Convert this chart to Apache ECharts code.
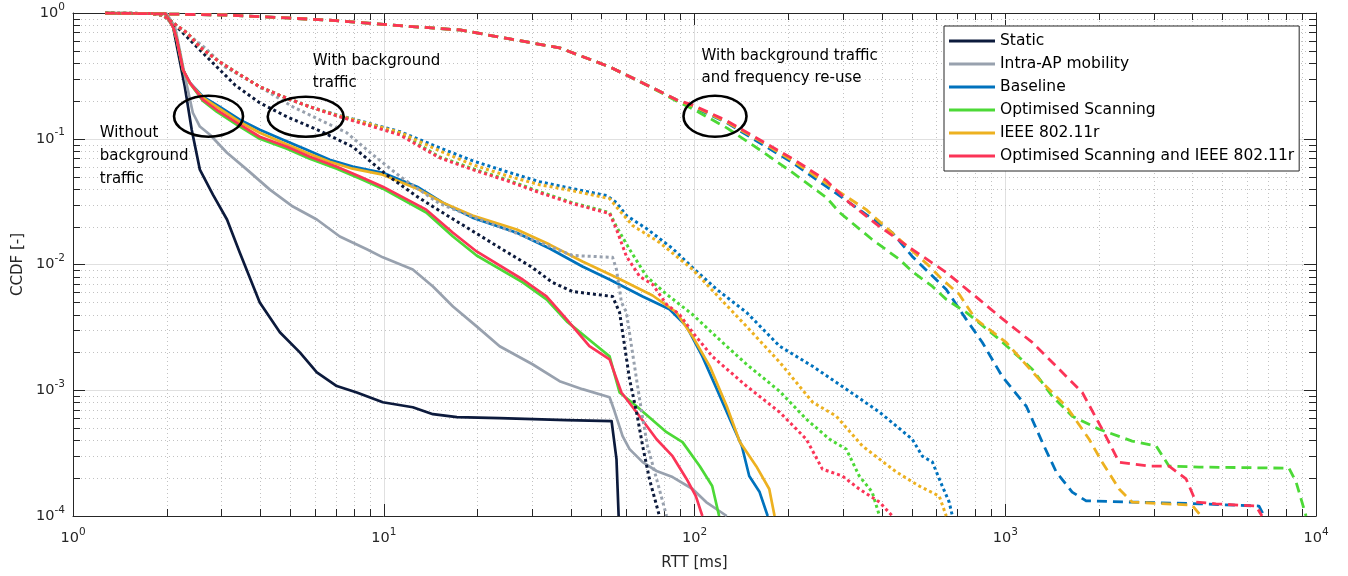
<!DOCTYPE html>
<html><head><meta charset="utf-8">
<script src="https://cdn.jsdelivr.net/npm/echarts@6/dist/echarts.min.js"></script>
<style>html,body{margin:0;padding:0;background:#fff}#c{width:1348px;height:576px}</style>
</head><body><div id="c"></div>
<script>
// ---- axis ticks ----
const xMajorTicks = [1, 10, 100, 1000, 10000];
const yMajorTicks = [0.0001, 0.001, 0.01, 0.1, 1];
const xMinorTicks = [2,3,4,5,6,7,8,9,20,30,40,50,60,70,80,90,200,300,400,500,600,700,800,900,2000,3000,4000,5000,6000,7000,8000,9000];
const yMinorTicks = [0.0002,0.0003,0.0004,0.0005,0.0006,0.0007,0.0008,0.0009,0.002,0.003,0.004,0.005,0.006,0.007,0.008,0.009,0.02,0.03,0.04,0.05,0.06,0.07,0.08,0.09,0.2,0.3,0.4,0.5,0.6,0.7,0.8,0.9];

const legendNames = ['Static','Intra-AP mobility','Baseline','Optimised Scanning','IEEE 802.11r','Optimised Scanning and IEEE 802.11r'];

// ---- Without background traffic (solid) ----
const staticSolid = [[1.27,1],[1.98,0.99],[2.10,0.774],[2.29,0.259],[2.41,0.118],[2.56,0.0568],[2.82,0.036],[3.13,0.0228],[3.44,0.01245],[3.99,0.00499],[4.63,0.00289],[5.37,0.002],[6.09,0.00139],[7.06,0.00108],[8.19,0.00096],[9.93,0.000803],[12.4,0.000733],[14.4,0.000645],[17.2,0.000611],[23.6,0.0006],[38.8,0.000578],[54.1,0.000568],[56.1,0.000283],[57.0,0.0001]];
const intraSolid = [[1.27,1],[2.0,0.99],[2.13,0.774],[2.33,0.259],[2.43,0.161],[2.56,0.125],[2.76,0.1076],[3.13,0.0774],[3.63,0.0568],[4.30,0.0394],[5.10,0.0289],[6.09,0.0228],[7.22,0.0167],[8.82,0.0132],[9.93,0.0114],[12.4,0.00913],[14.4,0.00669],[16.7,0.00464],[19.9,0.00322],[23.6,0.00224],[30.1,0.00161],[36.8,0.00118],[43.6,0.00102],[53.3,0.00088],[55.3,0.00068],[58.7,0.000432],[61.8,0.00034],[68.1,0.000268],[75.5,0.000228],[85.0,0.000204],[98.6,0.000164],[109,0.000129],[127,0.0001]];
const baselineSolid = [[1.27,1],[1.98,0.99],[2.10,0.774],[2.16,0.61],[2.26,0.353],[2.38,0.278],[2.62,0.216],[2.97,0.1795],[3.44,0.1416],[3.99,0.118],[4.74,0.0982],[5.65,0.0818],[6.70,0.0681],[7.94,0.060],[9.93,0.0537],[12.8,0.0416],[15.5,0.031],[19.3,0.0236],[26.8,0.0179],[34.2,0.0134],[43.6,0.00965],[53.3,0.0076],[68.1,0.00557],[83.1,0.0044],[94.3,0.00322],[106,0.00186],[118,0.00102],[130,0.000589],[142,0.00036],[150,0.000208],[162,0.000155],[172,0.0001]];
const optScanSolid = [[1.27,1],[1.98,0.99],[2.10,0.774],[2.16,0.61],[2.26,0.353],[2.38,0.275],[2.62,0.20],[2.90,0.164],[3.37,0.129],[3.99,0.1],[4.88,0.0833],[5.78,0.0694],[7.06,0.0578],[8.37,0.0482],[9.93,0.0401],[13.7,0.0259],[16.7,0.0167],[19.9,0.0118],[28.0,0.0072],[33.4,0.00528],[38.8,0.00353],[47.0,0.0024],[53.3,0.00186],[57.4,0.00096],[65.1,0.000746],[81.3,0.000464],[91.5,0.000387],[104,0.000249],[114,0.000173],[120,0.0001]];
const ieeeSolid = [[1.27,1],[1.98,0.99],[2.10,0.774],[2.16,0.61],[2.26,0.353],[2.38,0.275],[2.62,0.212],[2.97,0.173],[3.44,0.136],[3.99,0.1116],[4.74,0.0929],[5.65,0.0774],[6.70,0.0657],[7.94,0.0578],[9.93,0.0518],[12.8,0.0401],[15.5,0.031],[19.3,0.0245],[26.8,0.019],[34.2,0.0144],[43.6,0.01056],[56.1,0.00789],[73.3,0.00567],[87.5,0.00416],[98.6,0.00268],[112,0.00155],[127,0.000746],[140,0.000387],[158,0.000249],[174,0.000164],[181,0.0001]];
const optIeeeSolid = [[1.27,1],[1.98,0.99],[2.10,0.774],[2.16,0.61],[2.26,0.353],[2.38,0.278],[2.62,0.204],[2.90,0.170],[3.37,0.134],[3.99,0.1037],[4.88,0.0864],[5.78,0.072],[7.06,0.060],[8.37,0.050],[9.93,0.0416],[13.7,0.0273],[16.7,0.0179],[19.9,0.0127],[28.0,0.0076],[33.4,0.00557],[38.8,0.00366],[45.9,0.00224],[53.3,0.00176],[58.2,0.00096],[65.1,0.000669],[75.5,0.000408],[85.0,0.000299],[94.3,0.000197],[101,0.000144],[106,0.0001]];

// ---- With background traffic (dotted) ----
const staticBG = [[1.27,1],[1.77,0.99],[1.95,0.96],[2.10,0.833],[2.43,0.578],[2.62,0.481],[2.86,0.387],[3.32,0.268],[3.99,0.193],[4.88,0.1496],[6.22,0.1157],[7.94,0.0864],[10.2,0.0518],[12.8,0.0347],[15.1,0.0268],[18.5,0.0197],[23.6,0.0136],[30.1,0.00946],[34.9,0.0072],[40.5,0.0061],[54.5,0.00557],[57.4,0.00416],[59.6,0.00224],[61.8,0.00122],[65.1,0.000669],[68.1,0.00036],[71.6,0.000197],[77.1,0.0001]];
const intraBG = [[1.27,1],[1.77,0.99],[1.95,0.96],[2.10,0.833],[2.38,0.657],[2.66,0.528],[3.08,0.373],[3.99,0.259],[5.10,0.1795],[6.22,0.1416],[7.60,0.1116],[9.22,0.0746],[11.3,0.050],[15.1,0.0305],[19.3,0.024],[24.9,0.019],[31.7,0.015],[40.5,0.0118],[54.5,0.0114],[56.1,0.00913],[58.2,0.005],[60.4,0.00416],[62.7,0.00224],[65.1,0.00122],[67.6,0.000669],[70.6,0.00036],[75.5,0.000197],[81.3,0.0001]];
const baselineBG = [[1.27,1],[1.77,0.99],[1.95,0.96],[2.10,0.833],[2.33,0.694],[2.56,0.537],[2.90,0.424],[3.37,0.334],[3.99,0.259],[4.74,0.216],[5.78,0.1795],[7.06,0.155],[8.82,0.134],[11.3,0.1137],[15.1,0.0849],[19.3,0.0669],[24.9,0.0547],[31.7,0.0456],[40.5,0.0401],[52.2,0.0353],[56.1,0.031],[60.4,0.0245],[70.1,0.0193],[85.0,0.0134],[98.6,0.00946],[118,0.00633],[147,0.00416],[188,0.00224],[240,0.00155],[308,0.00102],[394,0.000669],[502,0.000408],[541,0.000299],[583,0.000268],[627,0.000173],[660,0.000129],[676,0.0001]];
const optScanBG = [[1.27,1],[1.77,0.99],[1.95,0.96],[2.10,0.833],[2.33,0.694],[2.56,0.537],[2.90,0.424],[3.37,0.334],[3.99,0.259],[4.74,0.216],[5.78,0.1795],[7.06,0.153],[8.82,0.1315],[11.3,0.1096],[15.1,0.072],[19.3,0.0578],[24.9,0.0473],[31.7,0.038],[40.5,0.031],[53.3,0.0259],[56.1,0.02],[61.8,0.0132],[70.1,0.00803],[81.3,0.0058],[98.6,0.004],[118,0.00264],[147,0.00161],[188,0.00098],[229,0.000589],[272,0.000408],[308,0.00034],[339,0.000208],[373,0.000155],[394,0.0001]];
const ieeeBG = [[1.27,1],[1.77,0.99],[1.95,0.96],[2.10,0.833],[2.33,0.694],[2.56,0.537],[2.90,0.424],[3.37,0.334],[3.99,0.259],[4.74,0.216],[5.78,0.1795],[7.06,0.154],[8.82,0.133],[11.3,0.112],[15.1,0.0803],[19.3,0.0622],[24.9,0.0508],[31.7,0.0431],[40.5,0.0386],[53.3,0.0334],[57.4,0.0268],[63.2,0.0204],[77.1,0.015],[98.6,0.00913],[120,0.00547],[147,0.00322],[188,0.00167],[240,0.000803],[286,0.000622],[347,0.00036],[446,0.000224],[529,0.000173],[613,0.000144],[646,0.0001]];
const optIeeeBG = [[1.27,1],[1.77,0.99],[1.95,0.96],[2.10,0.833],[2.33,0.694],[2.56,0.537],[2.90,0.424],[3.37,0.334],[3.99,0.259],[4.74,0.216],[5.78,0.1795],[7.06,0.152],[8.82,0.129],[11.3,0.107],[15.1,0.0707],[19.3,0.0568],[24.9,0.0464],[31.7,0.0373],[40.5,0.0305],[53.3,0.0254],[56.1,0.019],[60.4,0.0116],[66.6,0.00803],[73.3,0.00694],[81.3,0.00482],[89.5,0.004],[98.6,0.00289],[114,0.00186],[147,0.00108],[188,0.000669],[229,0.000408],[258,0.000236],[299,0.000208],[339,0.000164],[394,0.000129],[433,0.0001]];

// ---- With background traffic and frequency re-use (dashed) ----
const baselineFR = [[1.27,1],[3.13,0.964],[6.56,0.88],[10.7,0.80],[17.6,0.733],[36.8,0.528],[53.3,0.373],[68.1,0.278],[87.5,0.204],[98.6,0.18],[127,0.134],[162,0.0929],[207,0.0645],[266,0.0416],[339,0.0273],[433,0.0179],[502,0.0116],[646,0.00633],[749,0.00366],[844,0.0024],[977,0.00129],[1169,0.000746],[1315,0.000387],[1459,0.000224],[1642,0.000155],[1821,0.000132],[2560,0.000129],[4203,0.000125],[6555,0.00012],[6810,0.0001]];
const optScanFR = [[1.27,1],[3.13,0.964],[6.56,0.88],[10.7,0.80],[17.6,0.733],[36.8,0.528],[53.3,0.373],[68.1,0.278],[87.5,0.2],[98.6,0.173],[127,0.122],[162,0.0818],[207,0.0537],[266,0.034],[293,0.0259],[373,0.0158],[456,0.011],[502,0.0088],[583,0.00669],[646,0.00528],[749,0.00416],[957,0.00254],[1222,0.00147],[1416,0.000896],[1642,0.000622],[2004,0.00049],[2560,0.000394],[3060,0.00036],[3367,0.000249],[4203,0.000245],[8187,0.00024],[8630,0.000186],[9290,0.0001]];
const ieeeFR = [[1.27,1],[3.13,0.964],[6.56,0.88],[10.7,0.80],[17.6,0.733],[36.8,0.528],[53.3,0.373],[68.1,0.278],[87.5,0.204],[98.6,0.1826],[127,0.136],[162,0.0964],[207,0.0669],[266,0.044],[357,0.0273],[446,0.0167],[570,0.0097],[627,0.0076],[711,0.0058],[801,0.0037],[1007,0.0024],[1286,0.00122],[1571,0.000746],[1862,0.000408],[2051,0.000268],[2325,0.000164],[2560,0.000129],[3993,0.000122],[4268,0.0001]];
const optIeeeFR = [[1.27,1],[3.13,0.964],[6.56,0.88],[10.7,0.80],[17.6,0.733],[36.8,0.528],[53.3,0.373],[68.1,0.278],[87.5,0.204],[98.6,0.186],[127,0.139],[162,0.0982],[207,0.0694],[266,0.0464],[315,0.031],[394,0.02],[502,0.0132],[646,0.00865],[824,0.00528],[957,0.00387],[1222,0.0024],[1491,0.00147],[1770,0.00096],[2051,0.00049],[2325,0.000268],[2904,0.000249],[3367,0.000249],[3819,0.000197],[4112,0.000129],[4767,0.000125],[6412,0.00012],[6700,0.0001]];

// ---- annotations (data-space anchors) ----
const ellipseCenters = [[2.73,0.151],[5.61,0.1496],[116.4,0.151]];
const ellipseRadii = [[34.5,20.5],[38,20],[31.5,20.5]];
const noteTexts = ['Without\nbackground\ntraffic','With background\ntraffic','With background traffic\nand frequency re-use'];
const noteAnchors = [[1.22,0.1364],[5.91,0.508],[105.3,0.557]];
const noteLineHeights = [23,22,22];

const colors = ['#0c1a3c','#98a1ae','#0072bd','#4cd936','#edb120','#fb3457'];
const FONT = 'DejaVu Sans';

const solidSets = [staticSolid,intraSolid,baselineSolid,optScanSolid,ieeeSolid,optIeeeSolid];
const bgSets = [staticBG,intraBG,baselineBG,optScanBG,ieeeBG,optIeeeBG];
const frSets = [null,null,baselineFR,optScanFR,ieeeFR,optIeeeFR];

function lineSeries(name, data, color, type, width) {
  return {
    name: name, type: 'line', data: data, symbol: 'none', showSymbol: false,
    xAxisIndex: 0, yAxisIndex: 0, smooth: false, silent: true,
    lineStyle: {color: color, width: width, type: type, cap: 'butt', join: 'round'},
    itemStyle: {color: color}, z: 3
  };
}

const series = [];
// minor grid + minor ticks (through the axes' scales)
series.push({
  type: 'custom', xAxisIndex: 0, yAxisIndex: 0, silent: true, z: 1, clip: false,
  data: xMinorTicks.map(v => [v, 1]),
  renderItem: function (params, api) {
    const cs = params.coordSys;
    const px = Math.round(api.coord([api.value(0), 1])[0]) + 0.5;
    const top = cs.y, bot = cs.y + cs.height;
    return {type: 'group', children: [
      {type: 'line', shape: {x1: px, y1: top, x2: px, y2: bot}, style: {stroke: '#c2c2c2', lineWidth: 1, lineDash: [1, 3]}},
      {type: 'line', shape: {x1: px, y1: bot, x2: px, y2: bot - 7}, style: {stroke: '#262626', lineWidth: 1}},
      {type: 'line', shape: {x1: px, y1: top, x2: px, y2: top + 7}, style: {stroke: '#262626', lineWidth: 1}}
    ]};
  }
});
series.push({
  type: 'custom', xAxisIndex: 0, yAxisIndex: 0, silent: true, z: 1, clip: false,
  data: yMinorTicks.map(v => [1, v]),
  renderItem: function (params, api) {
    const cs = params.coordSys;
    const py = Math.round(api.coord([1, api.value(1)])[1]) + 0.5;
    const left = cs.x, right = cs.x + cs.width;
    return {type: 'group', children: [
      {type: 'line', shape: {x1: left, y1: py, x2: right, y2: py}, style: {stroke: '#c2c2c2', lineWidth: 1, lineDash: [1, 3]}},
      {type: 'line', shape: {x1: left, y1: py, x2: left + 7, y2: py}, style: {stroke: '#262626', lineWidth: 1}},
      {type: 'line', shape: {x1: right, y1: py, x2: right - 7, y2: py}, style: {stroke: '#262626', lineWidth: 1}}
    ]};
  }
});
solidSets.forEach((d, i) => series.push(lineSeries(legendNames[i], d, colors[i], 'solid', 2.7)));
bgSets.forEach((d, i) => series.push(lineSeries('bg: ' + legendNames[i], d, colors[i], [3, 3], 3)));
frSets.forEach((d, i) => { if (d) series.push(lineSeries('fr: ' + legendNames[i], d, colors[i], [10, 6], 2.8)); });

function expLabel(v) {
  const e = Math.round(Math.log10(v));
  return '{b|10}{s|' + e + '}';
}
const richLab = {
  b: {fontSize: 14.5, fontFamily: FONT, color: '#262626'},
  s: {fontSize: 10.5, fontFamily: FONT, color: '#262626', padding: [0, 0, 12, 0]}
};
const axisCommon = {
  type: 'log', logBase: 10,
  axisLine: {show: true, lineStyle: {color: '#262626', width: 1}},
  axisTick: {show: true, inside: true, length: 12, lineStyle: {color: '#262626', width: 1}},
  minorTick: {show: false}, minorSplitLine: {show: false}
};

const option = {
  animation: false,
  backgroundColor: '#ffffff',
  textStyle: {fontFamily: FONT},
  grid: {left: 73, right: 32, top: 13, bottom: 59},
  xAxis: [
    Object.assign({}, axisCommon, {
      min: xMajorTicks[0], max: xMajorTicks[xMajorTicks.length - 1], position: 'bottom',
      axisLabel: {formatter: expLabel, rich: richLab, margin: 11},
      splitLine: {show: true, lineStyle: {color: '#e0e0e0', width: 1}},
      name: 'RTT [ms]', nameLocation: 'middle', nameGap: 40,
      nameTextStyle: {fontFamily: FONT, fontSize: 15, color: '#262626'}
    }),
    Object.assign({}, axisCommon, {
      min: xMajorTicks[0], max: xMajorTicks[xMajorTicks.length - 1], position: 'top',
      axisLabel: {show: false}, splitLine: {show: false}
    })
  ],
  yAxis: [
    Object.assign({}, axisCommon, {
      min: yMajorTicks[0], max: yMajorTicks[yMajorTicks.length - 1], position: 'left',
      axisLabel: {formatter: expLabel, rich: richLab, margin: 8},
      splitLine: {show: true, lineStyle: {color: '#e0e0e0', width: 1}},
      name: 'CCDF [-]', nameLocation: 'middle', nameGap: 46,
      nameTextStyle: {fontFamily: FONT, fontSize: 15, color: '#262626'}
    }),
    Object.assign({}, axisCommon, {
      min: yMajorTicks[0], max: yMajorTicks[yMajorTicks.length - 1], position: 'right',
      axisLabel: {show: false}, splitLine: {show: false}
    })
  ],
  legend: {
    data: legendNames, orient: 'vertical', left: 944, top: 26,
    icon: 'rect', itemWidth: 46, itemHeight: 3, itemGap: 7, padding: [7, 5, 7, 5],
    borderColor: '#262626', borderWidth: 1, backgroundColor: '#ffffff',
    textStyle: {fontFamily: FONT, fontSize: 15.5, color: '#000'},
    selectedMode: false, z: 10
  },
  series: series
};

const chart = echarts.init(document.getElementById('c'), null, {renderer: 'canvas'});
chart.setOption(option);

// annotations positioned through the axes' scales
const graphics = [];
ellipseCenters.forEach((c, i) => {
  const p = chart.convertToPixel({xAxisIndex: 0, yAxisIndex: 0}, c);
  graphics.push({type: 'ellipse', silent: true, z: 20,
    shape: {cx: p[0], cy: p[1], rx: ellipseRadii[i][0], ry: ellipseRadii[i][1]},
    style: {fill: 'none', stroke: '#000', lineWidth: 2.6}});
});
noteAnchors.forEach((a, i) => {
  const p = chart.convertToPixel({xAxisIndex: 0, yAxisIndex: 0}, a);
  graphics.push({type: 'text', silent: true, z: 20, x: p[0], y: p[1],
    style: {text: noteTexts[i], fill: '#000', fontFamily: FONT, fontSize: 15,
      lineHeight: noteLineHeights[i], align: 'left', verticalAlign: 'top'}});
});
chart.setOption({graphic: graphics});
</script>
</body></html>
